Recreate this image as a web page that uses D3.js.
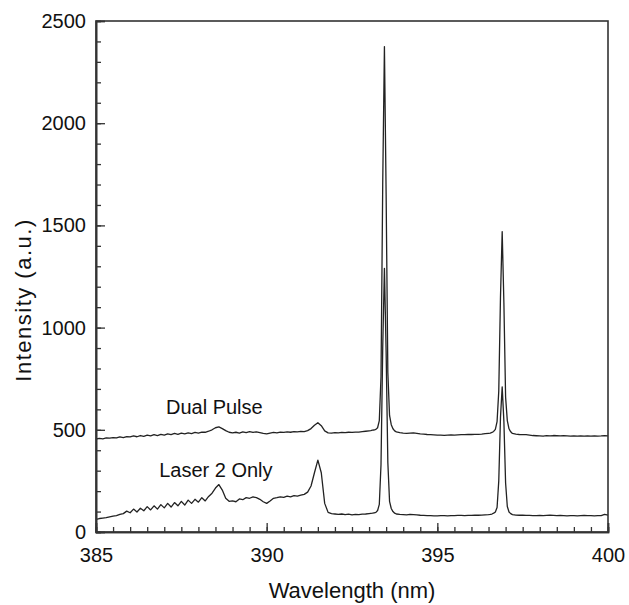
<!DOCTYPE html>
<html>
<head>
<meta charset="utf-8">
<script src="https://cdn.jsdelivr.net/npm/d3@7"></script>
<style>
    body { margin: 0; background: #fff; }
    svg text { font-family: "Liberation Sans", Arial, sans-serif; fill: #111; }
</style>
</head>
<body>
<svg id="chart" width="629" height="605"></svg>
<script>
// Wavelength grid (nm), finer around the two Ca II lines.
const wavelength = [
    385.0, 385.1, 385.2, 385.3, 385.4, 385.5, 385.6, 385.7, 385.8, 385.9,
    386.0, 386.1, 386.2, 386.3, 386.4, 386.5, 386.6, 386.7, 386.8, 386.9,
    387.0, 387.1, 387.2, 387.3, 387.4, 387.5, 387.6, 387.7, 387.8, 387.9,
    388.0, 388.1, 388.2, 388.3, 388.4, 388.5, 388.6, 388.7, 388.8, 388.9,
    389.0, 389.1, 389.2, 389.3, 389.4, 389.5, 389.6, 389.7, 389.8, 389.9,
    390.0, 390.1, 390.2, 390.3, 390.4, 390.5, 390.6, 390.7, 390.8, 390.9,
    391.0, 391.1, 391.2, 391.3, 391.4, 391.5, 391.6, 391.7, 391.8, 391.9,
    392.0, 392.1, 392.2, 392.3, 392.4, 392.5, 392.6, 392.7, 392.8, 392.9,
    393.0, 393.05, 393.1, 393.15, 393.2, 393.25, 393.3, 393.35, 393.4, 393.45,
    393.5, 393.55, 393.6, 393.65, 393.7, 393.75, 393.8, 393.9,
    394.0, 394.1, 394.2, 394.3, 394.4, 394.5, 394.6, 394.7, 394.8, 394.9,
    395.0, 395.1, 395.2, 395.3, 395.4, 395.5, 395.6, 395.7, 395.8, 395.9,
    396.0, 396.1, 396.2, 396.3, 396.4, 396.5, 396.55, 396.6, 396.65, 396.7,
    396.75, 396.8, 396.85, 396.9, 396.95, 397.0, 397.05, 397.1, 397.15, 397.2,
    397.3, 397.4, 397.5, 397.6, 397.7, 397.8, 397.9,
    398.0, 398.1, 398.2, 398.3, 398.4, 398.5, 398.6, 398.7, 398.8, 398.9,
    399.0, 399.1, 399.2, 399.3, 399.4, 399.5, 399.6, 399.7, 399.8, 399.9, 400.0
];

const dualPulse = [
    455, 458, 456, 460, 459, 462, 460, 465, 462, 467,
    465, 470, 466, 472, 468, 474, 470, 476, 472, 478,
    474, 480, 476, 482, 478, 484, 480, 485, 481, 487,
    484, 489, 488, 493, 500, 510, 514, 506, 496, 488,
    485, 488, 484, 490, 486, 491, 487, 490, 486, 482,
    480, 484, 487, 485, 489, 487, 490, 488, 491, 490,
    492, 491, 496, 506, 522, 535, 520, 495, 485, 484,
    486, 485, 487, 486, 488, 487, 489, 489, 491, 493,
    495, 496, 498, 499, 502, 510, 545, 760, 1700, 2375,
    1650, 780, 570, 525, 505, 495, 490, 486,
    484, 483, 484, 485, 483, 480, 479, 477, 476, 475,
    474, 474, 473, 474, 475, 474, 475, 476, 476, 477,
    477, 478, 478, 479, 481, 483, 484, 487, 492, 502,
    540, 690, 1150, 1470, 1120, 660, 545, 505, 490, 482,
    479, 477, 476, 476, 474, 472, 471,
    470, 469, 471, 470, 472, 471, 470, 471, 470, 469,
    470, 469, 470, 469, 470, 469, 470, 469, 470, 472, 470
];

const laser2Only = [
    62, 66, 68, 70, 74, 78, 80, 86, 90, 102,
    94, 112, 98, 116, 104, 124, 108, 128, 112, 134,
    118, 140, 122, 144, 128, 150, 132, 156, 140, 160,
    146, 168, 152, 174, 190, 215, 232, 205, 165, 150,
    152, 148, 162, 158, 168, 165, 172, 168, 160, 148,
    140, 152, 165, 168, 172, 169, 175, 172, 178, 176,
    180, 184, 195, 225, 290, 352, 290, 140, 96, 90,
    88, 86, 88, 85, 87, 84, 86, 85, 87, 88,
    90, 91, 92, 94, 96, 105, 135, 330, 900, 1290,
    880, 340, 150, 115, 100, 92, 88, 86,
    85, 84, 86, 85, 84, 82, 81, 80, 80, 79,
    79, 80, 80, 79, 80, 80, 81, 81, 80, 81,
    81, 82, 82, 83, 84, 85, 86, 88, 92, 98,
    120, 250, 560, 710, 540, 240, 125, 98, 90, 85,
    83, 82, 82, 81, 81, 80, 80,
    81, 80, 81, 82, 81, 80, 81, 80, 79, 80,
    80, 79, 80, 81, 80, 80, 79, 80, 80, 86, 82
];

const xMajorTicks = [385, 390, 395, 400];
const yMajorTicks = [0, 500, 1000, 1500, 2000, 2500];

const seriesLabels = [
    { text: "Dual Pulse", x: 387.05, y: 577 },
    { text: "Laser 2 Only", x: 386.85, y: 269 }
];

const svg = d3.select("#chart");
const margin = { top: 21, right: 21, bottom: 73, left: 96 };
const width = 629 - margin.left - margin.right;
const height = 605 - margin.top - margin.bottom;

const g = svg.append("g")
    .attr("transform", `translate(${margin.left},${margin.top})`);

const x = d3.scaleLinear().domain([385, 400]).range([0, width]);
const y = d3.scaleLinear().domain([0, 2500]).range([height, 0]);

// Spectra.
const line = d3.line()
    .x((d, i) => x(wavelength[i]))
    .y((d) => y(d));

[dualPulse, laser2Only].forEach((series) => {
    g.append("path")
        .datum(series)
        .attr("fill", "none")
        .attr("stroke", "#222")
        .attr("stroke-width", 1.3)
        .attr("stroke-linejoin", "round")
        .attr("d", line);
});

// Frame (top and right sides have no ticks).
g.append("rect")
    .attr("width", width)
    .attr("height", height)
    .attr("fill", "none")
    .attr("stroke", "#333")
    .attr("stroke-width", 1.6);

// Minor ticks, pointing inward.
g.append("g")
    .attr("transform", `translate(0,${height})`)
    .call(d3.axisBottom(x).tickValues(d3.range(385, 400.01, 0.5)).tickSize(-5).tickFormat(""));
g.append("g")
    .call(d3.axisLeft(y).tickValues(d3.range(0, 2501, 100)).tickSize(-5).tickFormat(""));

// Major ticks with labels.
const xAxis = g.append("g")
    .attr("transform", `translate(0,${height})`)
    .call(d3.axisBottom(x).tickValues(xMajorTicks).tickSize(-9).tickPadding(16).tickFormat(d3.format("d")));
const yAxis = g.append("g")
    .call(d3.axisLeft(y).tickValues(yMajorTicks).tickSize(-9).tickPadding(10).tickFormat(d3.format("d")));

g.selectAll(".domain").attr("stroke", "#333").attr("stroke-width", 1.6);
g.selectAll(".tick line").attr("stroke", "#333").attr("stroke-width", 1.3);
xAxis.selectAll("text").attr("font-size", 20).attr("fill", "#111");
yAxis.selectAll("text").attr("font-size", 20).attr("fill", "#111");

// Series labels.
g.selectAll(".series-label")
    .data(seriesLabels)
    .join("text")
    .attr("class", "series-label")
    .attr("x", (d) => x(d.x))
    .attr("y", (d) => y(d.y))
    .attr("font-size", 20)
    .text((d) => d.text);

// Axis titles.
svg.append("text")
    .attr("x", margin.left + width / 2)
    .attr("y", 598)
    .attr("text-anchor", "middle")
    .attr("font-size", 22)
    .text("Wavelength (nm)");

svg.append("text")
    .attr("transform", "translate(31,300) rotate(-90)")
    .attr("text-anchor", "middle")
    .attr("font-size", 22)
    .attr("letter-spacing", 1.5)
    .text("Intensity (a.u.)");
</script>
</body>
</html>
